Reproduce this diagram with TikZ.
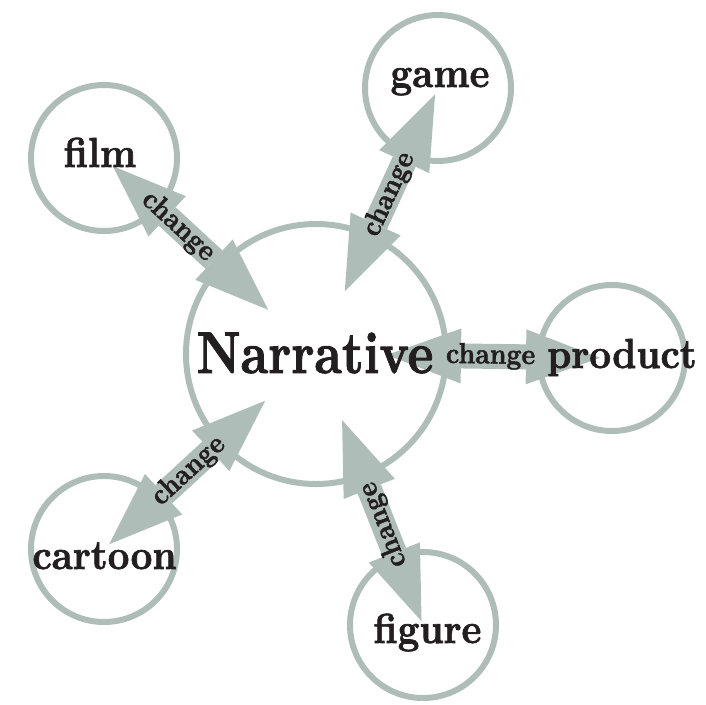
\documentclass[tikz,border=0pt]{standalone}
\usepackage{fontspec}
\newfontfamily\heavyfont{lmroman10-bold.otf}[FakeBold=1.6]
\usetikzlibrary{arrows.meta,calc}
\definecolor{ringgray}{RGB}{175,189,184}
\definecolor{inkblack}{RGB}{35,31,32}
\tikzset{
  bigtip/.tip={Triangle[length=74pt,width=55pt,line width=0pt]},
  ring/.style={circle,draw=ringgray,line width=6pt,inner sep=0pt,minimum size=#1},
  link/.style={draw=ringgray,line width=25pt,bigtip-bigtip},
  word/.style={text=inkblack,inner sep=0pt,anchor=base,
    font=\heavyfont\fontsize{42}{42}\selectfont},
  bigword/.style={text=inkblack,inner sep=0pt,anchor=base,
    font=\heavyfont\fontsize{59}{59}\selectfont},
  chg/.style={text=inkblack,inner sep=0pt,sloped,allow upside down,
    font=\heavyfont\fontsize{29}{29}\selectfont},
}
\newcommand{\narrow}[2][0.9]{\scalebox{#1}[1]{#2}}
\begin{document}
\begin{tikzpicture}[x=1pt,y=1pt]
\useasboundingbox (0,0) rectangle (706,-704);

% rings
\node[ring=260pt] (narr)    at (316,-354) {};
\node[ring=146pt] (film)    at (104,-158) {};
\node[ring=146pt] (game)    at (438,-88)  {};
\node[ring=146pt] (product) at (612,-358) {};
\node[ring=146pt] (cartoon) at (104,-549) {};
\node[ring=146pt] (figure)  at (423,-625) {};

% double-headed block arrows
\draw[link] ($(film.center)!12pt!(narr.center)$)    -- ($(narr.center)!65pt!(film.center)$);
\draw[link] ($(narr.center)!69pt!(game.center)$)    -- ($(game.center)!7pt!(narr.center)$);
\draw[link] ($(narr.center)!71pt!(product.center)$) -- ($(product.center)!12pt!(narr.center)$);
\draw[link] ($(cartoon.center)!7pt!(narr.center)$)  -- ($(narr.center)!69pt!(cartoon.center)$);
\draw[link] ($(figure.center)!4pt!(narr.center)$)   -- ($(narr.center)!71pt!(figure.center)$);

% arrow labels
\path (film.center)   -- node[chg,pos=0.35] {\narrow{change}} (narr.center);
\path (narr.center)   -- node[chg,pos=0.60] {\narrow{change}} (game.center);
\path (narr.center)   -- node[chg,pos=0.59] {\narrow{change}} (product.center);
\path (cartoon.center)-- node[chg,pos=0.40] {\narrow{change}} (narr.center);
\path (figure.center) -- node[chg,pos=0.37] {\narrow{change}} (narr.center);

% ring texts
\node[bigword] (narrtext)    at (315,-373)   {\narrow[0.83]{Narrative}};
\node[word]    (filmtext)    at (100,-167)   {\narrow{film}};
\node[word]    (gametext)    at (440,-87)    {\narrow{game}};
\node[word]    (producttext) at (622,-368)   {\narrow{product}};
\node[word]    (cartoontext) at (104.5,-569) {\narrow{cartoon}};
\node[word]    (figuretext)  at (427.5,-643) {\narrow{figure}};
\end{tikzpicture}
\end{document}
